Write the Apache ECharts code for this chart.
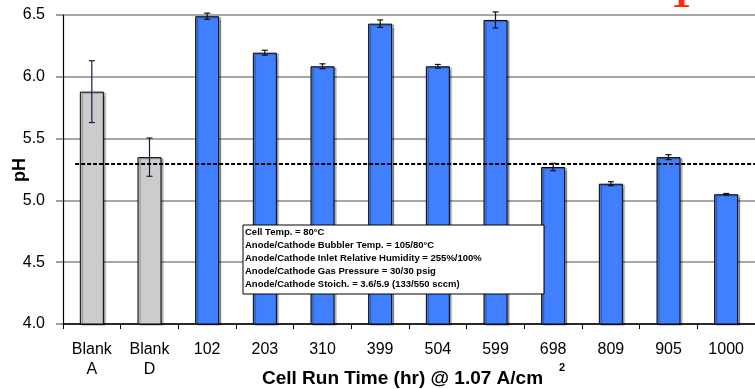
<!DOCTYPE html>
<html>
<head>
<meta charset="utf-8">
<script src="https://cdn.jsdelivr.net/npm/echarts@6/dist/echarts.min.js"></script>
<style>
html,body{margin:0;padding:0;background:#fff;}
#chart{width:755px;height:389px;}
</style>
</head>
<body>
<div id="chart"></div>
<script>
const categories = ['Blank\nA','Blank\nD','102','203','310','399','504','599','698','809','905','1000'];
const phValues = [5.88, 5.35, 6.49, 6.195, 6.085, 6.43, 6.085, 6.46, 5.27, 5.135, 5.35, 5.05];
const phErrors = [0.25, 0.155, 0.025, 0.02, 0.02, 0.03, 0.015, 0.065, 0.03, 0.016, 0.02, 0.006];
const blankCount = 2;
const referencePH = 5.295;
const refLineSpan = [-0.29, 11.6];
const yTicks = [4.0, 4.5, 5.0, 5.5, 6.0, 6.5];
const conditions = [
  'Cell Temp. = 80°C',
  'Anode/Cathode Bubbler Temp. = 105/80°C',
  'Anode/Cathode Inlet Relative Humidity = 255%/100%',
  'Anode/Cathode Gas Pressure = 30/30 psig',
  'Anode/Cathode Stoich. = 3.6/5.9 (133/550 sccm)'
];

const chart = echarts.init(document.getElementById('chart'), null, {renderer:'canvas'});

const barData = phValues.map((v, i) => ({
  value: v,
  itemStyle: { color: i < blankCount ? '#cccccc' : '#4080ff' }
}));
const errData = phValues.map((v, i) => [i, v - phErrors[i], v + phErrors[i]]);

const FONT = '"Liberation Sans", Arial, sans-serif';

const option = {
  animation: false,
  backgroundColor: '#fff',
  grid: { left: 63, top: 15, width: 699, height: 309, containLabel: false },
  xAxis: [{
    type: 'category',
    data: categories,
    axisLine: { lineStyle: { color: '#000', width: 1.5 } },
    axisTick: { show: true, length: 5, lineStyle: { color: '#000' } },
    axisLabel: { color: '#000', fontFamily: FONT, fontSize: 16, lineHeight: 20, margin: 16 },
    splitLine: { show: false }
  }, {
    type: 'value', min: -0.5, max: 11.5, show: false
  }],
  yAxis: {
    type: 'value', min: yTicks[0], max: yTicks[yTicks.length - 1], interval: 0.5,
    axisLine: { show: true, onZero: false, lineStyle: { color: '#000', width: 1.2 } },
    axisTick: { show: true, length: 7, lineStyle: { color: '#808080', width: 1.5 } },
    axisLabel: { color: '#000', fontFamily: FONT, fontSize: 16, margin: 18,
      formatter: v => v.toFixed(1) },
    splitLine: { show: true, lineStyle: { color: '#8a8a8a', width: 1.5 } }
  },
  series: [{
    type: 'bar',
    data: barData,
    barWidth: 24,
    itemStyle: { borderColor: '#000', borderWidth: 1,
      shadowColor: 'rgba(0,0,0,0.35)', shadowOffsetX: 2, shadowOffsetY: 1, shadowBlur: 1 },
    z: 2
  }, {
    type: 'custom',
    data: errData,
    z: 5,
    renderItem: function (params, api) {
      const i = api.value(0);
      const lo = api.coord([i, api.value(1)]);
      const hi = api.coord([i, api.value(2)]);
      const x = lo[0];
      const w = 3;
      const st = { stroke: i < blankCount ? '#1a1a40' : '#111', lineWidth: 1.2 };
      return { type: 'group', children: [
        { type: 'line', shape: { x1: x, y1: lo[1], x2: x, y2: hi[1] }, style: st },
        { type: 'line', shape: { x1: x - w, y1: lo[1], x2: x + w, y2: lo[1] }, style: st },
        { type: 'line', shape: { x1: x - w, y1: hi[1], x2: x + w, y2: hi[1] }, style: st }
      ]};
    }
  }, {
    type: 'line',
    xAxisIndex: 1,
    data: [[refLineSpan[0], referencePH], [refLineSpan[1], referencePH]],
    symbol: 'none',
    lineStyle: { color: '#000', width: 2, type: [4, 2] },
    z: 6
  }],
  graphic: [
    { type: 'text', x: 20, y: 170, rotation: Math.PI / 2,
      style: { text: 'pH', font: 'bold 18px ' + FONT, fill: '#000',
        textAlign: 'center', textVerticalAlign: 'middle' } },
    { type: 'text', x: 402.5, y: 379,
      style: { text: 'Cell Run Time (hr) @ 1.07 A/cm', font: 'bold 19px ' + FONT, fill: '#000',
        textAlign: 'center', textVerticalAlign: 'middle' } },
    { type: 'text', x: 562, y: 368,
      style: { text: '2', font: 'bold 11px ' + FONT, fill: '#000',
        textAlign: 'center', textVerticalAlign: 'middle' } },
    { type: 'text', x: 681, y: 17,
      style: { text: '1', font: 'bold 40px "Liberation Serif", serif', fill: '#ff2a00',
        textAlign: 'center', textVerticalAlign: 'bottom' } },
    { type: 'rect', x: 243, y: 225, z: 100, shape: { x: 0, y: 0, width: 301, height: 69 },
      style: { fill: '#fff', stroke: '#000', lineWidth: 1 } }
  ].concat(conditions.map((t, k) => ({
      type: 'text', x: 245, y: 232.5 + k * 13, z: 101,
      style: { text: t, font: 'bold 9.5px ' + FONT, fill: '#000', textVerticalAlign: 'middle' }
  })))
};
chart.setOption(option);
</script>
</body>
</html>
